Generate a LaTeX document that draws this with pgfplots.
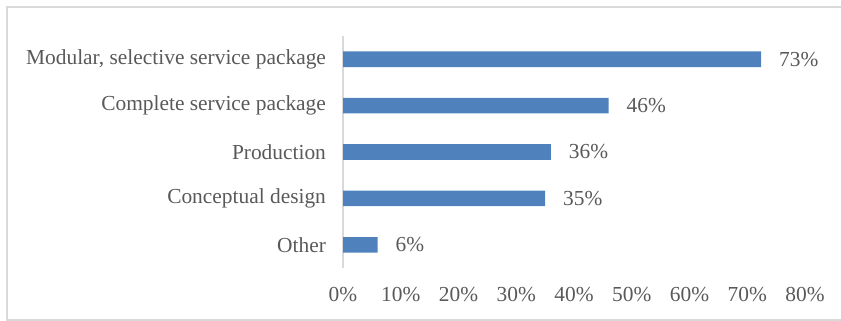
\documentclass[border=0pt]{standalone}
\usepackage{pgfplots}
\pgfplotsset{compat=1.18}
\usepackage{fontspec}
\setmainfont{Liberation Serif}
\definecolor{barblue}{HTML}{4F81BD}
\definecolor{txtgray}{HTML}{595959}
\definecolor{framegray}{HTML}{D9D9D9}
\begin{document}
\begin{tikzpicture}
\useasboundingbox (0pt,0pt) rectangle (420.5pt,-160.5pt);
\draw[framegray, line width=0.6pt] (420.5pt,-3.5pt) -- (3.5pt,-3.5pt) -- (3.5pt,-160pt) -- (420.5pt,-160pt);
\begin{axis}[
  at={(171.5pt,-134pt)}, anchor=south west,
  scale only axis,
  width=231pt, height=116pt,
  xbar, bar width=7.8pt,
  xmin=0, xmax=80,
  ymin=-0.5, ymax=4.5,
  ytick={0,1,2,3,4},
  yticklabels={Other, Conceptual design, Production, Complete service package, {Modular, selective service package}},
  xtick={0,10,20,30,40,50,60,70,80},
  xticklabels={0\%,10\%,20\%,30\%,40\%,50\%,60\%,70\%,80\%},
  axis x line*=bottom,
  x axis line style={draw=none},
  axis y line*=left,
  y axis line style={framegray, line width=1pt, -},
  major tick length=0pt,
  tick style={draw=none},
  xticklabel style={font=\fontsize{10.7}{12}\selectfont, text=txtgray},
  yticklabel style={font=\fontsize{10.7}{12}\selectfont, text=txtgray, xshift=-5pt},
  every x tick label/.append style={yshift=-6pt},
  nodes near coords={\pgfplotspointmeta\%},
  nodes near coords style={font=\fontsize{10.7}{12}\selectfont, text=txtgray, anchor=west, xshift=5.5pt},
  point meta=explicit symbolic,
  clip=false,
]
\addplot[fill=barblue, draw=none] table[meta=lab] {
x y lab
6 0 6
35 1 35
36 2 36
46 3 46
72.4 4 73
};
\end{axis}
\end{tikzpicture}
\end{document}
